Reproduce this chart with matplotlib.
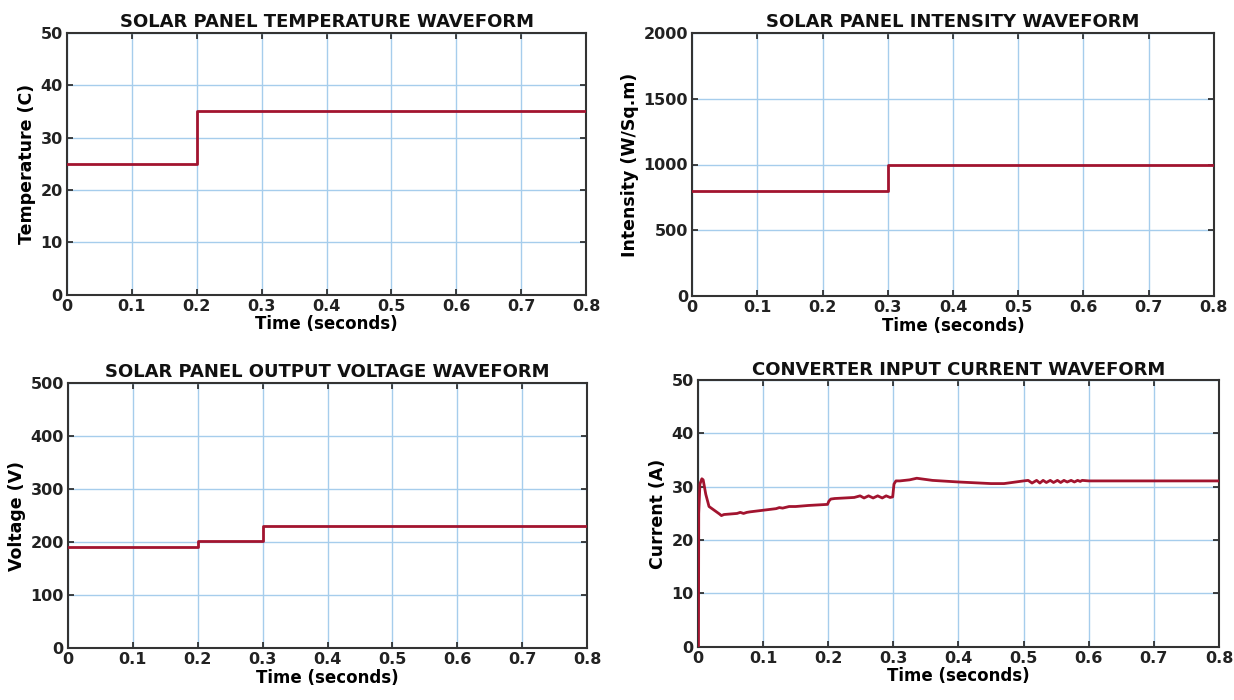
import matplotlib.pyplot as plt

# step inputs
temp_t = [0, 0.2, 0.2, 0.8]
temp_v = [25, 25, 35, 35]

irr_t = [0, 0.3, 0.3, 0.8]
irr_v = [800, 800, 1000, 1000]

volt_t = [0, 0.2, 0.2, 0.3, 0.3, 0.8]
volt_v = [190, 190, 202, 202, 230, 230]

# converter input current
cur_t = [0.0008, 0.0012, 0.003, 0.006, 0.008, 0.012, 0.017, 0.025, 0.033, 0.036, 0.04,
         0.05, 0.06, 0.065, 0.07, 0.075, 0.08, 0.1, 0.12, 0.125, 0.13, 0.14, 0.15,
         0.17, 0.199, 0.201, 0.204, 0.21, 0.24, 0.249, 0.255, 0.262, 0.269, 0.276,
         0.283, 0.289, 0.295, 0.299, 0.301, 0.304, 0.31, 0.325, 0.336, 0.36, 0.4,
         0.45, 0.47, 0.5, 0.507, 0.513, 0.52, 0.525, 0.53, 0.535, 0.541, 0.546,
         0.552, 0.557, 0.562, 0.567, 0.573, 0.578, 0.583, 0.587, 0.59, 0.6, 0.65, 0.8]
cur_v = [0, 25, 30.5, 31.5, 31.3, 28.6, 26.3, 25.6, 24.9, 24.6, 24.8,
         24.9, 25.0, 25.2, 25.0, 25.2, 25.3, 25.6, 25.9, 26.1, 26.0, 26.3, 26.3,
         26.5, 26.7, 27.3, 27.7, 27.8, 28.0, 28.3, 27.9, 28.3, 27.9, 28.3,
         27.9, 28.3, 28.0, 28.1, 30.5, 31.1, 31.1, 31.3, 31.6, 31.2, 30.9,
         30.6, 30.6, 31.1, 31.2, 30.7, 31.2, 30.7, 31.2, 30.8, 31.2, 30.8,
         31.2, 30.8, 31.2, 30.9, 31.2, 30.9, 31.2, 31.0, 31.2, 31.1, 31.1, 31.1]

time_ticks = [0, 0.1, 0.2, 0.3, 0.4, 0.5, 0.6, 0.7, 0.8]
time_labels = ['0', '0.1', '0.2', '0.3', '0.4', '0.5', '0.6', '0.7', '0.8']

LINE = '#a2142f'
GRID = '#a6cdec'

plt.rcParams['font.family'] = 'DejaVu Sans'
plt.rcParams['font.weight'] = 'bold'

fig = plt.figure(figsize=(12.34, 7), dpi=100)

panels = [
    # rect, x, y, title, ylabel, yticks
    ([0.0543, 0.579, 0.4207, 0.374], temp_t, temp_v,
     'SOLAR PANEL TEMPERATURE WAVEFORM', 'Temperature (C)', [0, 10, 20, 30, 40, 50]),
    ([0.561, 0.577, 0.4227, 0.376], irr_t, irr_v,
     'SOLAR PANEL INTENSITY WAVEFORM', 'Intensity (W/Sq.m)', [0, 500, 1000, 1500, 2000]),
    ([0.0551, 0.074, 0.4206, 0.379], volt_t, volt_v,
     'SOLAR PANEL OUTPUT VOLTAGE WAVEFORM', 'Voltage (V)', [0, 100, 200, 300, 400, 500]),
    ([0.5656, 0.076, 0.4222, 0.381], cur_t, cur_v,
     'CONVERTER INPUT CURRENT WAVEFORM', 'Current (A)', [0, 10, 20, 30, 40, 50]),
]

for rect, x, y, title, ylab, yt in panels:
    ax = fig.add_axes(rect)
    ax.plot(x, y, color=LINE, lw=2.0, solid_joinstyle='round', zorder=3)
    ax.set_xlim(0, 0.8)
    ax.set_ylim(yt[0], yt[-1])
    ax.set_xticks(time_ticks)
    ax.set_xticklabels(time_labels)
    ax.set_yticks(yt)
    ax.grid(True, color=GRID, lw=1.0)
    ax.set_axisbelow(True)
    ax.tick_params(direction='in', top=True, right=True, length=4, width=1.2,
                   labelsize=11.5, pad=3, colors='#222222')
    for s in ax.spines.values():
        s.set_linewidth(1.5)
        s.set_color('#333333')
    ax.set_title(title, fontsize=13, fontweight='bold', pad=4, color='#111111')
    ax.set_xlabel('Time (seconds)', fontsize=12, fontweight='bold', labelpad=1)
    ax.set_ylabel(ylab, fontsize=12.5, fontweight='bold', labelpad=3)

plt.savefig('out.png', dpi=100)
